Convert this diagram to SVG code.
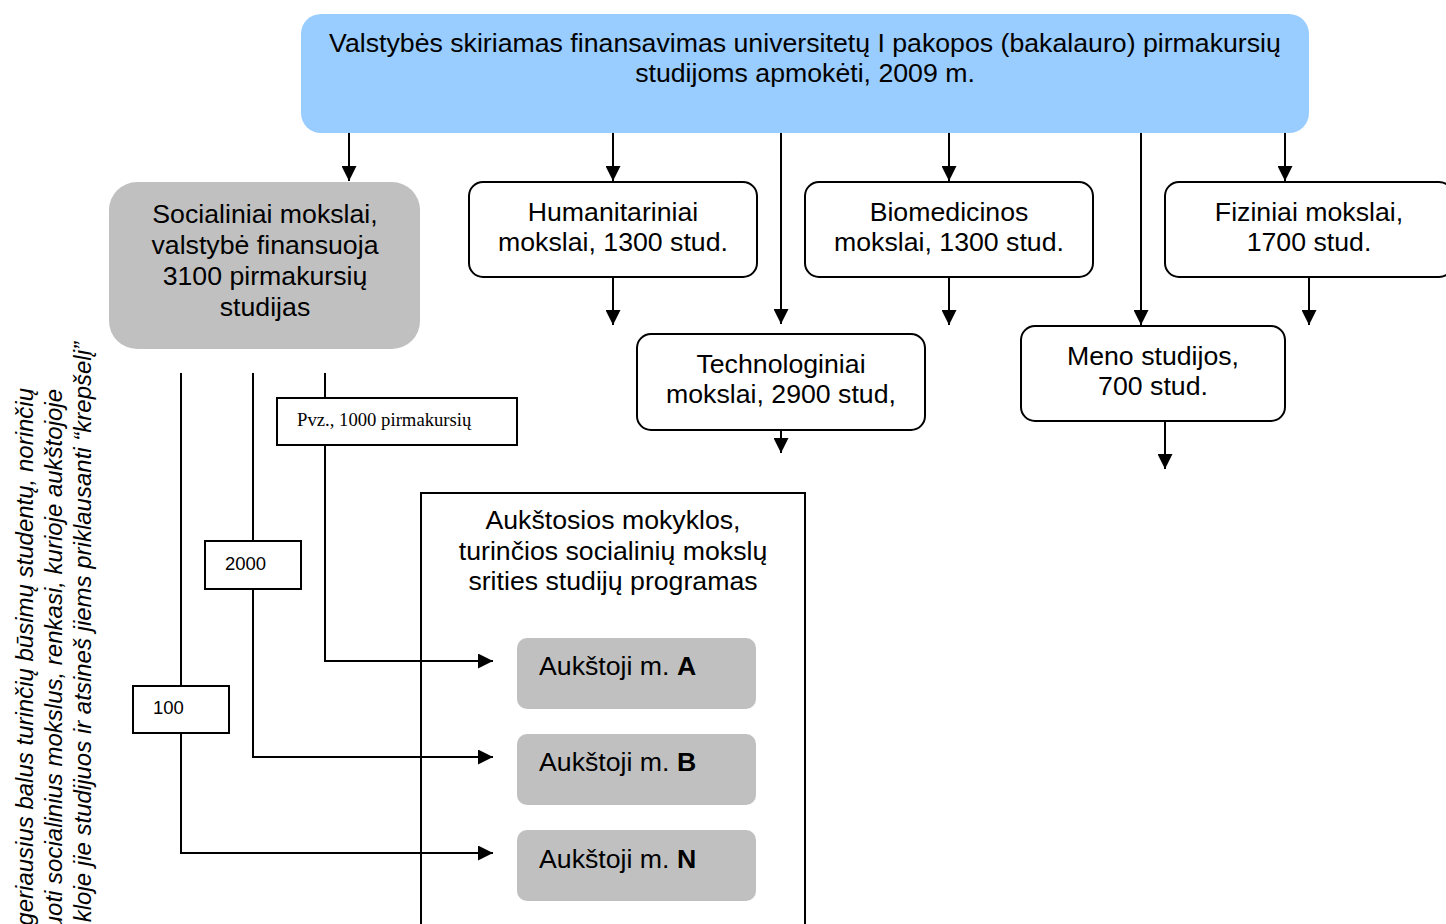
<svg xmlns="http://www.w3.org/2000/svg" width="1446" height="924" viewBox="0 0 1446 924">
<style>
text{font-family:"Liberation Sans",Arial,sans-serif;fill:#000}
.t{font-size:26.7px;text-anchor:middle}
.g{font-size:26.7px}
.lab{font-size:18.5px}
.ser{font-family:"Liberation Serif","Times New Roman",serif;font-size:18.7px}
.rot{font-size:24px;font-style:italic;text-anchor:end}
.box{fill:#fff;stroke:#000;stroke-width:2}
.gray{fill:#c0c0c0;stroke:none}
.conn path{fill:none;stroke:#000;stroke-width:2}
</style>
<defs>
<marker id="ah" markerUnits="userSpaceOnUse" markerWidth="15" markerHeight="15" refX="15" refY="7.5" orient="auto">
<path d="M0,0 L15,7.5 L0,15 Z" fill="#000"/>
</marker>
</defs>

<g id="top">
<rect x="301" y="14" width="1008" height="119" rx="20" fill="#99ccff"/>
<text class="t" x="805" y="52">Valstybės skiriamas finansavimas universitetų I pakopos (bakalauro) pirmakursių</text>
<text class="t" x="805" y="82">studijoms apmokėti, 2009 m.</text>
</g>

<g id="social">
<rect x="109" y="182" width="311" height="167" rx="28" class="gray"/>
<text class="t" x="265" y="223">Socialiniai mokslai,</text>
<text class="t" x="265" y="254">valstybė finansuoja</text>
<text class="t" x="265" y="285">3100 pirmakursių</text>
<text class="t" x="265" y="316">studijas</text>
</g>

<g id="human">
<rect x="469" y="182" width="288" height="95" rx="14" class="box"/>
<text class="t" x="613" y="221">Humanitariniai</text>
<text class="t" x="613" y="251">mokslai, 1300 stud.</text>
</g>

<g id="biomed">
<rect x="805" y="182" width="288" height="95" rx="14" class="box"/>
<text class="t" x="949" y="221">Biomedicinos</text>
<text class="t" x="949" y="251">mokslai, 1300 stud.</text>
</g>

<g id="fiz">
<rect x="1165" y="182" width="288" height="95" rx="14" class="box"/>
<text class="t" x="1309" y="221">Fiziniai mokslai,</text>
<text class="t" x="1309" y="251">1700 stud.</text>
</g>

<g id="tech">
<rect x="637" y="334" width="288" height="96" rx="14" class="box"/>
<text class="t" x="781" y="373">Technologiniai</text>
<text class="t" x="781" y="403">mokslai, 2900 stud,</text>
</g>

<g id="meno">
<rect x="1021" y="326" width="264" height="95" rx="14" class="box"/>
<text class="t" x="1153" y="365">Meno studijos,</text>
<text class="t" x="1153" y="395">700 stud.</text>
</g>

<g id="schools">
<rect x="421" y="493" width="384" height="460" class="box"/>
<text class="t" x="613" y="529">Aukštosios mokyklos,</text>
<text class="t" x="613" y="560">turinčios socialinių mokslų</text>
<text class="t" x="613" y="590">srities studijų programas</text>
</g>

<g id="schoolA">
<rect x="517" y="638" width="239" height="71" rx="10" class="gray"/>
<text class="g" x="539" y="675">Aukštoji m. <tspan font-weight="bold">A</tspan></text>
</g>
<g id="schoolB">
<rect x="517" y="734" width="239" height="71" rx="10" class="gray"/>
<text class="g" x="539" y="771">Aukštoji m. <tspan font-weight="bold">B</tspan></text>
</g>
<g id="schoolN">
<rect x="517" y="830" width="239" height="71" rx="10" class="gray"/>
<text class="g" x="539" y="868">Aukštoji m. <tspan font-weight="bold">N</tspan></text>
</g>

<g class="conn" id="connectors">
<path d="M349,133 V181" marker-end="url(#ah)"/>
<path d="M613,133 V181" marker-end="url(#ah)"/>
<path d="M781,133 V324" marker-end="url(#ah)"/>
<path d="M949,133 V181" marker-end="url(#ah)"/>
<path d="M1141,133 V325" marker-end="url(#ah)"/>
<path d="M1285,133 V181" marker-end="url(#ah)"/>
<path d="M613,277 V325" marker-end="url(#ah)"/>
<path d="M949,277 V325" marker-end="url(#ah)"/>
<path d="M1309,277 V325" marker-end="url(#ah)"/>
<path d="M781,430 V453" marker-end="url(#ah)"/>
<path d="M1165,421 V469" marker-end="url(#ah)"/>
<path d="M181,373 V686"/>
<path d="M181,733 V853 H493" marker-end="url(#ah)"/>
<path d="M253,373 V541"/>
<path d="M253,589 V757 H493" marker-end="url(#ah)"/>
<path d="M325,373 V398"/>
<path d="M325,445 V661 H493" marker-end="url(#ah)"/>
</g>

<g id="pvz">
<rect x="277" y="398" width="240" height="47" class="box"/>
<text class="ser" x="297" y="426">Pvz., 1000 pirmakursių</text>
</g>
<g id="n2000">
<rect x="205" y="541" width="96" height="48" class="box"/>
<text class="lab" x="225" y="570">2000</text>
</g>
<g id="n100">
<rect x="133" y="686" width="96" height="47" class="box"/>
<text class="lab" x="153" y="714">100</text>
</g>

<g id="sidenote">
<text class="rot" transform="translate(33,388) rotate(-90)">geriausius balus turinčių būsimų studentų, norinčių</text>
<text class="rot" transform="translate(62,389) rotate(-90)">uoti socialinius mokslus, renkasi, kurioje aukštojoje</text>
<text class="rot" transform="translate(91,342) rotate(-90)">kloje jie studijuos ir atsineš jiems priklausanti “krepšelį”</text>
</g>
</svg>
